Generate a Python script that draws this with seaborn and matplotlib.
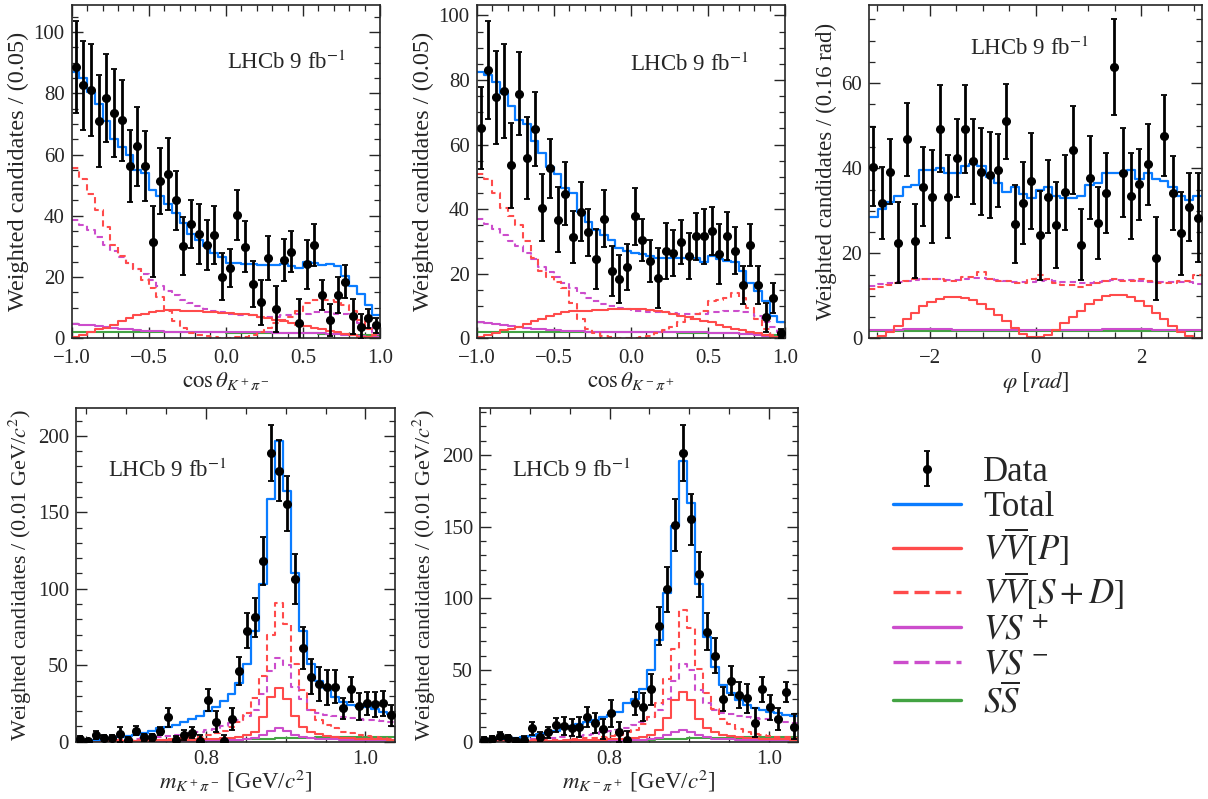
import numpy as np
import pandas as pd
import matplotlib
matplotlib.use("Agg")
import matplotlib.pyplot as plt
import seaborn as sns
from matplotlib.ticker import MultipleLocator
from matplotlib.lines import Line2D

sns.set_style("ticks")
plt.rcParams['font.family'] = 'serif'
plt.rcParams['font.serif'] = ['Liberation Serif', 'DejaVu Serif']
plt.rcParams['mathtext.fontset'] = 'stix'

# ---------------- cos(theta) K+pi- ----------------
c1_data = [88.6, 82.6, 81.0, 71.0, 78.5, 73.6, 71.2, 56.3, 62.7, 56.3, 31.6, 51.4, 53.6, 45.0, 30.1, 37.3, 34.0, 30.5, 33.8, 20.1,
           22.9, 40.2, 29.9, 17.8, 11.7, 26.2, 9.6, 25.5, 28.3, 4.9, 24.1, 30.5, 14.1, 6.1, 14.1, 18.5, 7.2, 3.8, 6.5, 4.2]
c1_err = [15.1, 14.6, 15.0, 15.0, 14.3, 14.3, 13.3, 11.7, 12.9, 11.4, 11.6, 10.9, 11.7, 9.7, 9.5, 7.9, 9.9, 8.2, 9.4, 7.6,
          6.3, 8.2, 8.4, 7.6, 7.3, 7.2, 7.6, 6.8, 6.6, 7.8, 7.9, 6.8, 5.0, 5.2, 6.0, 5.4, 5.7, 4.0, 3.0, 2.5]
c1_total = [87, 85, 80.5, 76.5, 71, 65, 62.5, 60, 55, 54, 48.5, 46.5, 44, 41, 37.5, 34, 32, 30, 28, 26.5,
            24.5, 24.5, 24.3, 24.2, 24, 23.8, 24, 24.3, 23.5, 23, 25, 24.5, 24, 24.2, 23.5, 20.5, 17, 14.5, 11, 7.5]
c1_vvp = [0.5, 1, 2, 3, 3.5, 4.5, 5.5, 6.5, 7.5, 8, 8.5, 9, 9.2, 9.3, 9, 9, 8.8, 8.5, 8.5, 8.3,
          8.2, 8, 8, 7.5, 7, 6.5, 6, 5.5, 5, 4.5, 4, 3.5, 3, 2.5, 2, 1.5, 1, 0.5, 0.3, 0.1]
c1_vvsd = [55.5, 52, 47, 42, 36.5, 30.5, 27, 24.5, 22.5, 19, 16.5, 13.5, 9, 5.5, 3.3, 1.8, 1.1, 0.6, 0.3, 0.2,
           0.2, 0.3, 0.5, 1.0, 2.0, 3.5, 5.0, 6.0, 7.0, 9.0, 11.5, 12.5, 12.5, 12.5, 12.0, 11.0, 9.0, 6.0, 3.0, 1.0]
c1_vsp = [4.8, 4.5, 4.2, 3.9, 3.6, 3.3, 3.1, 2.9, 2.7, 2.5, 2.4, 2.3, 2.2, 2.1, 2.0, 2.0, 1.9, 1.9, 1.9, 1.9,
          1.9, 1.9, 1.9, 1.9, 1.9, 1.9, 1.8, 1.8, 1.8, 1.8, 1.7, 1.7, 1.6, 1.5, 1.4, 1.2, 1.0, 0.8, 0.5, 0.3]
c1_vsm = [38.5, 37, 35.5, 33, 30.5, 28.5, 26.5, 24.5, 22.5, 21, 19, 17, 15.5, 14, 12.5, 11.5, 10.5, 9.5, 9, 8.5,
          8, 7.5, 7.5, 7.5, 7, 7, 7, 7.5, 7.5, 8, 8, 8.5, 8.5, 8.5, 8, 8, 7, 5, 3.5, 1.5]
c1_ss = [2.1, 2.1, 2.1, 2.1, 2.1, 2.0, 2.0, 2.0, 2.0, 2.0, 2.0, 2.0, 1.9, 1.9, 1.9, 1.9, 1.9, 1.9, 1.9, 1.9,
         1.8, 1.8, 1.8, 1.8, 1.8, 1.8, 1.7, 1.7, 1.7, 1.7, 1.6, 1.6, 1.5, 1.5, 1.4, 1.3, 1.2, 1.1, 1.0, 0.9]

# ---------------- cos(theta) K-pi+ ----------------
c2_data = [65.2, 83.2, 74.7, 76.7, 53.6, 75.8, 55.9, 64.9, 40.5, 52.6, 36.8, 44.8, 31.4, 39.2, 32.8, 24.6, 37.1, 20.9, 18.4, 22.0,
           37.8, 30.4, 24.0, 18.8, 27.1, 26.5, 29.9, 25.5, 31.6, 31.6, 33.3, 26.1, 31.6, 27.1, 16.5, 28.9, 16.5, 6.5, 12.4, 1.5]
c2_err = [12.7, 15.2, 14.4, 14.6, 13.1, 12.9, 12.8, 11.4, 10.3, 9.2, 10.2, 9.8, 8.0, 9.1, 7.3, 9.4, 8.8, 7.7, 7.5, 7.1,
          8.8, 6.5, 6.5, 9.3, 8.6, 7.1, 6.9, 7.0, 7.3, 8.5, 7.5, 9.4, 7.5, 7.3, 6.0, 6.5, 6.0, 4.5, 4.7, 1.5]
c2_total = [82.5, 81.5, 79.5, 76, 72, 67.5, 66.5, 61, 57.5, 53, 51, 46.5, 45, 39, 36, 33.5, 32, 30.5, 28, 27,
            26.5, 26, 25.5, 25, 25, 24.8, 25, 25, 24.8, 23.5, 25.5, 24.5, 24, 23.5, 21, 17, 14.5, 11.5, 7, 5]
c2_vvp = [0.3, 1, 1.5, 2.5, 3, 3.5, 4.5, 5.5, 6, 7, 7.5, 8, 8.5, 8.5, 8.5, 8.7, 8.8, 9, 9, 9,
          9, 9, 8.7, 8.5, 8, 7.5, 7, 6.5, 6, 5.5, 5, 4, 3.5, 3, 2.5, 2, 1.5, 1, 0.5, 0.2]
c2_vvsd = [51, 49.5, 45, 40.5, 38, 35, 30, 25, 21, 19, 17.5, 15.5, 11, 6, 3, 1.5, 0.8, 0.4, 0.2, 0.1,
           0.1, 0.3, 0.8, 1.5, 2.5, 3.5, 5, 6, 7.5, 8.5, 11.5, 12, 12.5, 14, 12.5, 9.5, 6, 3, 1, 0.3]
c2_vsp = [4.9, 4.6, 4.3, 4.0, 3.7, 3.4, 3.2, 3.0, 2.8, 2.6, 2.5, 2.4, 2.3, 2.2, 2.1, 2.0, 2.0, 1.9, 1.9, 1.9,
          1.9, 1.9, 1.9, 1.9, 1.9, 1.9, 1.8, 1.8, 1.8, 1.8, 1.7, 1.7, 1.6, 1.5, 1.4, 1.2, 1.0, 0.8, 0.5, 0.3]
c2_vsm = [37, 35.5, 34, 32, 30, 28.5, 26.5, 24.5, 22, 20.5, 19, 17, 15.5, 14, 12.5, 11.5, 10.5, 10, 9.5, 9,
          8.5, 8.5, 8, 8, 8, 7.8, 7.5, 7.5, 7.5, 7.5, 8, 8.2, 8.5, 8.5, 8.3, 8, 7, 5, 3.5, 2]
c2_ss = [2.1, 2.1, 2.1, 2.1, 2.1, 2.0, 2.0, 2.0, 2.0, 2.0, 2.0, 2.0, 1.9, 1.9, 1.9, 1.9, 1.9, 1.9, 1.9, 1.9,
         1.8, 1.8, 1.8, 1.8, 1.8, 1.8, 1.7, 1.7, 1.7, 1.7, 1.6, 1.6, 1.5, 1.5, 1.4, 1.3, 1.2, 1.1, 1.0, 0.9]

# ---------------- phi ----------------
phi_data = [40.4, 31.8, 39.2, 22.5, 46.8, 23.0, 35.7, 33.3, 49.3, 33.3, 42.4, 49.2, 41.6, 39.2, 38.4, 39.5, 51.0, 26.8, 31.8, 37.0,
            24.2, 33.3, 26.7, 34.3, 44.3, 22.0, 37.8, 27.1, 34.1, 63.8, 39.0, 33.5, 36.2, 40.9, 18.8, 47.7, 34.1, 24.7, 30.8, 28.4]
phi_err = [9.2, 8.5, 7.6, 9.6, 8.6, 8.7, 9.4, 11.0, 10.2, 9.8, 9.1, 10.4, 10.1, 10.2, 10.2, 8.5, 8.8, 9.2, 9.7, 11.3,
           10.4, 8.6, 10.1, 8.9, 10.4, 8.4, 9.8, 8.4, 9.4, 11.3, 10.4, 10.2, 8.3, 9.5, 9.7, 9.6, 8.7, 9.8, 8.0, 10.4]
phi_total = [28.5, 30.5, 32, 33.5, 35.5, 36, 39.5, 39.5, 40, 39, 39, 40.5, 41, 40.5, 38, 36.5, 34.5, 35.5, 34, 33,
             35, 35.5, 33.5, 33, 33, 33.5, 36, 36.5, 39, 39, 39, 39.5, 37.5, 39, 37.5, 37, 35.5, 33.5, 32.5, 33.5]
phi_vvp = [0.1, 0.5, 1.5, 3, 4.5, 6, 7.5, 8.5, 9.3, 9.6, 9.7, 9.5, 9, 8, 7, 5.5, 4, 2.5, 1, 0.3,
           0.2, 0.8, 2, 3.5, 5, 6.5, 8, 9, 10, 10.3, 10.2, 9.7, 8.8, 7.5, 6, 4.5, 3, 1.5, 0.5, 0.1]
phi_vvsd = [11.5, 12, 12.5, 13, 13.5, 14, 14, 14, 14, 13.5, 13.5, 14.5, 14.5, 15.5, 14, 13.5, 13.5, 13, 13, 14,
            15, 14, 13, 12.5, 12.5, 12, 12.5, 13, 13.5, 14, 13.5, 13.5, 14, 13.5, 13, 13, 13, 13.5, 13.5, 15]
phi_vsp = [2.0, 2.0, 2.0, 2.0, 2.1, 2.1, 2.1, 2.1, 2.1, 2.1, 2.0, 2.0, 2.0, 2.0, 2.0, 2.0, 2.0, 2.0, 2.0, 2.0,
           2.0, 2.0, 2.0, 2.0, 2.0, 2.0, 2.0, 2.0, 2.1, 2.1, 2.1, 2.1, 2.1, 2.1, 2.0, 2.0, 2.0, 2.0, 2.0, 2.0]
phi_vsm = [12.3, 12.8, 13, 13.3, 13.5, 13.8, 14, 14, 14, 13.8, 13.6, 14, 14.2, 14.2, 14, 13.7, 13.5, 13.3, 13.2, 13.3,
           13.5, 13.8, 13.5, 13.3, 13.2, 13, 13, 13.2, 13.5, 13.7, 13.8, 13.7, 13.5, 13.3, 13.2, 13.2, 13.2, 13.3, 13.2, 12.8]
phi_ss = [1.8, 1.8, 1.8, 1.8, 1.8, 1.8, 1.8, 1.8, 1.8, 1.8, 1.8, 1.8, 1.8, 1.8, 1.8, 1.8, 1.8, 1.8, 1.8, 1.8,
          1.8, 1.8, 1.8, 1.8, 1.8, 1.8, 1.8, 1.8, 1.8, 1.8, 1.8, 1.8, 1.8, 1.8, 1.8, 1.8, 1.8, 1.8, 1.8, 1.8]

# ---------------- m(K+pi-) ----------------
m1_data = [1.5, 0.5, 4.4, 2.6, 2.6, 4.8, 1.0, 7.2, 2.8, 2.8, 7.2, 15.9, 1.0, 4.4, 5.9, 0.5, 27.3, 13.1, 0.5, 14.8,
           46.4, 72.6, 81.3, 118.2, 188.7, 177.1, 155.5, 106.2, 61.1, 42.5, 37.7, 35.5, 36.0, 21.8, 34.2, 23.3, 25.1, 24.6, 25.1, 17.4]
m1_err = [2.0, 1.5, 2.5, 2.0, 2.0, 4.7, 2.0, 3.0, 2.5, 2.5, 2.7, 6.0, 2.5, 3.5, 3.5, 4.0, 7.3, 6.8, 4.0, 7.0,
          9.3, 11.4, 12.8, 15.6, 18.2, 20.0, 18.0, 16.4, 13.6, 11.5, 10.9, 11.3, 11.0, 6.9, 8.2, 8.8, 7.6, 8.2, 8.0, 6.9]
m1_total = [0.5, 0.8, 1.1, 1.7, 2.2, 3.0, 3.7, 4.5, 6.0, 7.2, 8.7, 9.8, 11.0, 13.0, 15.0, 16.5, 20.0, 22.5, 26.5, 31.5,
            38.6, 51.0, 72.6, 103.2, 158.6, 196.3, 163.6, 110.2, 72.6, 51.0, 39.5, 35.0, 29.4, 26.2, 24.0, 23.3, 22.5, 21.2, 19.6, 18.1]
m1_vvp = [0.2, 0.2, 0.3, 0.3, 0.4, 0.4, 0.5, 0.5, 0.6, 0.7, 0.8, 0.9, 1.0, 1.1, 1.3, 1.5, 1.7, 1.9, 2.1, 2.4,
          3.0, 4.3, 6.5, 16.0, 29.5, 35.0, 28.0, 16.5, 9.8, 6.5, 4.8, 3.7, 3.0, 2.6, 2.3, 2.0, 1.8, 1.6, 1.5, 1.4]
m1_vvsd = [0.3, 0.4, 0.5, 0.6, 0.7, 0.8, 0.9, 1.0, 1.1, 1.2, 1.3, 1.5, 1.7, 2.2, 2.8, 3.3, 4.4, 5.5, 7.2, 9.8,
           13.0, 18.5, 28.3, 43.0, 69.8, 91.0, 77.0, 51.0, 33.8, 20.7, 14.2, 10.9, 8.7, 6.5, 5.5, 4.4, 3.5, 3.0, 2.5, 2.0]
m1_vsp = [0.1, 0.1, 0.1, 0.1, 0.1, 0.2, 0.2, 0.2, 0.2, 0.2, 0.3, 0.3, 0.3, 0.4, 0.4, 0.5, 0.5, 0.6, 0.7, 0.9,
          1.1, 1.6, 2.5, 4.5, 7.0, 8.7, 7.2, 4.5, 3.0, 2.3, 2.0, 1.7, 1.5, 1.4, 1.3, 1.2, 1.1, 1.0, 0.9, 0.9]
m1_vsm = [0.3, 0.4, 0.6, 0.8, 1.0, 1.3, 1.6, 2.0, 2.3, 2.7, 3.2, 3.7, 4.3, 5.0, 5.5, 6.5, 7.5, 8.5, 10.0, 12.0,
          14.0, 17.0, 21.0, 31.0, 46.0, 55.0, 50.0, 36.0, 28.0, 21.0, 18.5, 17.5, 17.0, 16.0, 15.5, 15.0, 14.5, 14.0, 13.5, 13.0]
m1_ss = [0.1, 0.1, 0.2, 0.2, 0.3, 0.3, 0.4, 0.4, 0.5, 0.5, 0.6, 0.6, 0.7, 0.8, 0.8, 0.9, 1.0, 1.1, 1.2, 1.3,
         1.4, 1.5, 1.6, 1.8, 2.0, 2.2, 2.4, 2.5, 2.6, 2.7, 2.8, 2.9, 2.9, 3.0, 3.0, 3.1, 3.1, 3.2, 3.2, 3.3]

# ---------------- m(K-pi+) ----------------
m2_data = [1.2, 1.6, 4.2, 2.8, 0.3, 1.2, 9.3, 3.5, 6.5, 11.6, 10.9, 9.8, 10.5, 17.4, 12.8, 8.8, 19.8, 6.5, 1.2, 26.7,
           24.0, 36.5, 80.7, 106.5, 151.2, 201.2, 155.1, 116.7, 76.7, 60.0, 29.8, 42.6, 32.6, 30.2, 13.3, 36.5, 24.0, 15.8, 34.9, 10.5]
m2_err = [2.0, 2.5, 2.5, 2.0, 2.0, 3.0, 4.7, 3.0, 4.0, 5.0, 6.4, 6.0, 7.0, 7.0, 7.0, 7.0, 9.3, 7.0, 6.4, 8.1,
          9.9, 10.8, 13.4, 15.7, 17.9, 19.5, 17.7, 15.7, 12.8, 12.2, 8.7, 9.9, 9.3, 9.9, 9.9, 8.7, 8.7, 7.6, 7.0, 8.7]
m2_total = [1.4, 1.6, 1.9, 2.3, 2.8, 3.5, 4.2, 5.1, 6.3, 7.7, 9.3, 11.0, 12.3, 14.0, 15.0, 17.4, 18.6, 21.0, 26.7, 30.0,
            37.0, 50.0, 71.0, 104.0, 150.5, 196.0, 166.7, 110.0, 73.0, 52.0, 39.5, 33.7, 29.0, 25.6, 23.3, 22.0, 21.0, 19.8, 18.6, 18.0]
m2_vvp = [0.2, 0.2, 0.3, 0.3, 0.4, 0.4, 0.5, 0.5, 0.6, 0.7, 0.8, 0.9, 1.0, 1.1, 1.3, 1.5, 1.7, 1.9, 2.2, 2.6,
          3.2, 4.5, 8.0, 16.3, 29.0, 35.0, 29.0, 16.0, 9.5, 6.5, 5.0, 4.0, 3.3, 2.8, 2.4, 2.1, 1.9, 1.7, 1.6, 1.5]
m2_vvsd = [0.3, 0.4, 0.5, 0.6, 0.7, 0.8, 0.9, 1.0, 1.1, 1.3, 1.5, 1.7, 2.0, 2.3, 2.8, 3.3, 4.0, 5.0, 6.5, 8.5,
           12.0, 17.0, 27.0, 44.0, 65.0, 92.0, 79.0, 51.0, 33.7, 23.0, 16.0, 12.5, 9.0, 7.0, 5.5, 4.5, 4.0, 3.5, 3.0, 2.7]
m2_vsp = [0.1, 0.1, 0.1, 0.1, 0.1, 0.2, 0.2, 0.2, 0.2, 0.2, 0.3, 0.3, 0.3, 0.4, 0.4, 0.5, 0.5, 0.6, 0.7, 0.9,
          1.1, 1.6, 2.5, 4.5, 7.0, 8.5, 7.0, 4.5, 3.0, 2.2, 1.8, 1.6, 1.5, 1.4, 1.3, 1.2, 1.1, 1.0, 0.9, 0.9]
m2_vsm = [0.3, 0.4, 0.6, 0.8, 1.0, 1.3, 1.6, 1.9, 2.3, 2.7, 3.2, 3.7, 4.3, 5.0, 5.7, 6.5, 7.3, 8.3, 9.5, 11.5,
          13.5, 17.0, 22.0, 30.0, 42.0, 54.0, 50.0, 36.0, 27.0, 22.0, 20.0, 19.0, 18.0, 17.0, 16.5, 16.0, 15.5, 15.0, 14.0, 13.0]
m2_ss = [0.1, 0.1, 0.2, 0.2, 0.3, 0.3, 0.4, 0.4, 0.5, 0.5, 0.6, 0.6, 0.7, 0.8, 0.8, 0.9, 1.0, 1.1, 1.2, 1.3,
         1.4, 1.5, 1.6, 1.8, 2.0, 2.2, 2.4, 2.5, 2.6, 2.7, 2.8, 2.9, 2.9, 3.0, 3.0, 3.1, 3.1, 3.2, 3.2, 3.3]

labels = ["Data", "Total", r"$V\overline{V}[P]$", r"$V\overline{V}[S+D]$",
          r"$VS^{\,+}$", r"$VS^{\,-}$", r"$S\overline{S}$"]

C_BLUE = "#0a7cff"
C_RED = "#ff4b4b"
C_MAG = "#cc4dcc"
C_GREEN = "#43a343"

W, H = 1208, 799
fig = plt.figure(figsize=(W / 100, H / 100), dpi=100)


def px_axes(l, r, t, b):
    return fig.add_axes([l / W, 1 - b / H, (r - l) / W, (b - t) / H])


def step(ax, edges, vals, color, ls="-", lw=1.5):
    vals = list(vals)
    df = pd.DataFrame({"x": edges, "y": vals + [vals[-1]]})
    linestyle = (0, (3.0, 2.0)) if ls == "--" else "-"
    sns.lineplot(data=df, x="x", y="y", drawstyle="steps-post", estimator=None,
                 color=color, linewidth=lw, linestyle=linestyle, ax=ax)


def panel(ax, edges, comps, data, err, xlim, ylim, xlabel, ylabel, txtpos,
          xmaj, xmin, ymaj, ymin, ylsize, xlpad, xtpad):
    vvp, vvsd, vsp, vsm, ss, tot = comps
    step(ax, edges, ss, C_GREEN)
    step(ax, edges, vsp, C_MAG)
    step(ax, edges, vsm, C_MAG, "--")
    step(ax, edges, vvp, C_RED)
    step(ax, edges, vvsd, C_RED, "--")
    step(ax, edges, tot, C_BLUE, lw=1.6)
    centers = 0.5 * (edges[:-1] + edges[1:])
    eb = ax.errorbar(centers, data, yerr=err, fmt="o", color="black", ms=5.5,
                     elinewidth=2.0, capsize=2.0, capthick=1.3, zorder=5)
    ax.set_xlim(*xlim)
    ax.set_ylim(*ylim)
    ax.set_xlabel(xlabel, fontsize=16.5, labelpad=xlpad)
    ax.set_ylabel(ylabel, fontsize=ylsize, labelpad=3)
    ax.xaxis.set_major_locator(MultipleLocator(xmaj))
    ax.xaxis.set_minor_locator(MultipleLocator(xmin))
    ax.yaxis.set_major_locator(MultipleLocator(ymaj))
    ax.yaxis.set_minor_locator(MultipleLocator(ymin))
    ax.tick_params(which="both", direction="in", top=True, right=True, labelsize=15)
    ax.tick_params(which="major", length=8, width=1.0)
    ax.tick_params(axis="x", which="major", pad=xtpad)
    ax.tick_params(axis="y", which="major", pad=5)
    ax.tick_params(which="minor", length=4, width=0.9)
    for s in ax.spines.values():
        s.set_linewidth(1.2)
    ax.text(txtpos[0], txtpos[1], r"LHCb 9 fb$^{-1}$", transform=ax.transAxes,
            fontsize=16.5, ha="left", va="center")
    return eb


cos_edges = np.linspace(-1.0, 1.0, 41)
phi_edges = np.linspace(-np.pi, np.pi, 41)
m_edges = np.linspace(0.637, 1.037, 41)

ax1 = px_axes(71.7, 380, 4.5, 338.3)
eb = panel(ax1, cos_edges, (c1_vvp, c1_vvsd, c1_vsp, c1_vsm, c1_ss, c1_total), c1_data, c1_err,
           (-1, 1), (0, 109), r"$\cos\theta_{K^+\pi^-}$", "Weighted candidates / (0.05)",
           (0.505, 0.826), 0.5, 0.1, 20, 5, 17.5, 1, 8)

ax2 = px_axes(476.7, 785, 4.5, 338.3)
panel(ax2, cos_edges, (c2_vvp, c2_vvsd, c2_vsp, c2_vsm, c2_ss, c2_total), c2_data, c2_err,
      (-1, 1), (0, 103.4), r"$\cos\theta_{K^-\pi^+}$", "Weighted candidates / (0.05)",
      (0.497, 0.82), 0.5, 0.1, 20, 5, 17.5, 1, 8)

ax3 = px_axes(869.3, 1201.7, 5, 338.3)
panel(ax3, phi_edges, (phi_vvp, phi_vvsd, phi_vsp, phi_vsm, phi_ss, phi_total), phi_data, phi_err,
      (-np.pi, np.pi), (0, 78.4), r"$\varphi\ [rad]$", "Weighted candidates / (0.16 rad)",
      (0.303, 0.871), 2, 0.5, 20, 5, 16.5, 1, 8)

ax4 = px_axes(76, 395, 408.3, 741.7)
panel(ax4, m_edges, (m1_vvp, m1_vvsd, m1_vsp, m1_vsm, m1_ss, m1_total), m1_data, m1_err,
      (0.637, 1.037), (0, 218), r"$m_{K^+\pi^-}$ [GeV/$c^2$]",
      r"Weighted candidates / (0.01 GeV/$c^2$)", (0.1, 0.815), 0.2, 0.05, 50, 10, 16, -1, 6)

ax5 = px_axes(480, 798.3, 408.3, 741.7)
panel(ax5, m_edges, (m2_vvp, m2_vvsd, m2_vsp, m2_vsm, m2_ss, m2_total), m2_data, m2_err,
      (0.637, 1.037), (0, 232.6), r"$m_{K^-\pi^+}$ [GeV/$c^2$]",
      r"Weighted candidates / (0.01 GeV/$c^2$)", (0.1, 0.815), 0.2, 0.05, 50, 10, 16, -1, 6)

handles = [eb,
           Line2D([], [], color=C_BLUE, lw=2.4),
           Line2D([], [], color=C_RED, lw=2.4),
           Line2D([], [], color=C_RED, lw=2.4, dashes=(4.5, 1.8)),
           Line2D([], [], color=C_MAG, lw=2.4),
           Line2D([], [], color=C_MAG, lw=2.4, dashes=(4.5, 1.8)),
           Line2D([], [], color=C_GREEN, lw=2.4)]
fig.legend(handles, labels, loc="upper left", bbox_to_anchor=(893 / W, 1 - 456 / H),
           frameon=False, fontsize=25, handlelength=1.95, handletextpad=0.65,
           labelspacing=0.05, borderpad=0, borderaxespad=0)

fig.savefig("out.png", dpi=100)
